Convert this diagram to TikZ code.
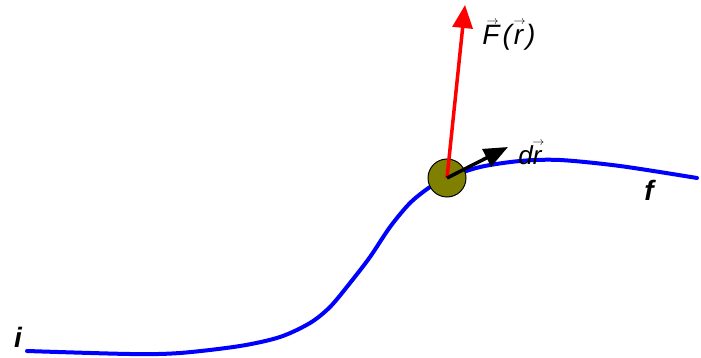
\documentclass[tikz,border=0pt]{standalone}
\usepackage{fontspec}
\setmainfont{Liberation Sans}
\usetikzlibrary{arrows.meta}
\definecolor{ballolive}{RGB}{128,128,0}
\newcommand\myvec[2][0.1em]{\setbox0\hbox{#2}\leavevmode\rlap{\hbox to \wd0{\hss\kern#1\raisebox{0.72em}{\fontsize{12}{12}\selectfont$\rightarrow$}\hss}}\box0}
\tikzset{
  pathline/.style={blue, line width=4pt, line cap=round},
  lab/.style={inner sep=0pt}
}
\begin{document}
\begin{tikzpicture}[x=1pt,y=-1pt]
\useasboundingbox (0,0) rectangle (701,358);
\draw[pathline] plot[smooth, tension=0.5] coordinates {(27,351) (130,354) (180,353) (240,346) (280,337) (310,323) (330,307) (350,283) (370,257) (390,227) (410,203) (430,187) (447,178) (480,167) (520,161) (560,160) (620,166) (697,178)};
\node[circle, draw=black, line width=1pt, fill=ballolive, minimum size=38pt, inner sep=0pt] (ball) at (447,178) {};
\coordinate (ftip) at (465,5);
\coordinate (drtip) at (508,147);
\draw[red, line width=3.5pt, -{Triangle[length=23pt, width=20pt]}] (ball.center) -- (ftip);
\draw[black, line width=3.5pt, -{Triangle[length=24pt, width=19pt]}] (ball.center) -- (drtip);
\node[lab, font=\fontsize{28}{28}\selectfont\itshape] (flab) at (509,35) {\myvec[0.12em]{F}\kern3pt(\kern2pt\myvec[0.08em]{r}\kern3pt)};
\node[lab, font=\fontsize{26}{26}\selectfont\itshape] (drlab) at (530,153) {d\myvec[0.08em]{r}};
\node[lab, font=\fontsize{28}{28}\selectfont\bfseries\itshape] (ilab) at (18,337) {i};
\node[lab, font=\fontsize{28}{28}\selectfont\bfseries\itshape] (flab2) at (649,190) {f};
\end{tikzpicture}
\end{document}
